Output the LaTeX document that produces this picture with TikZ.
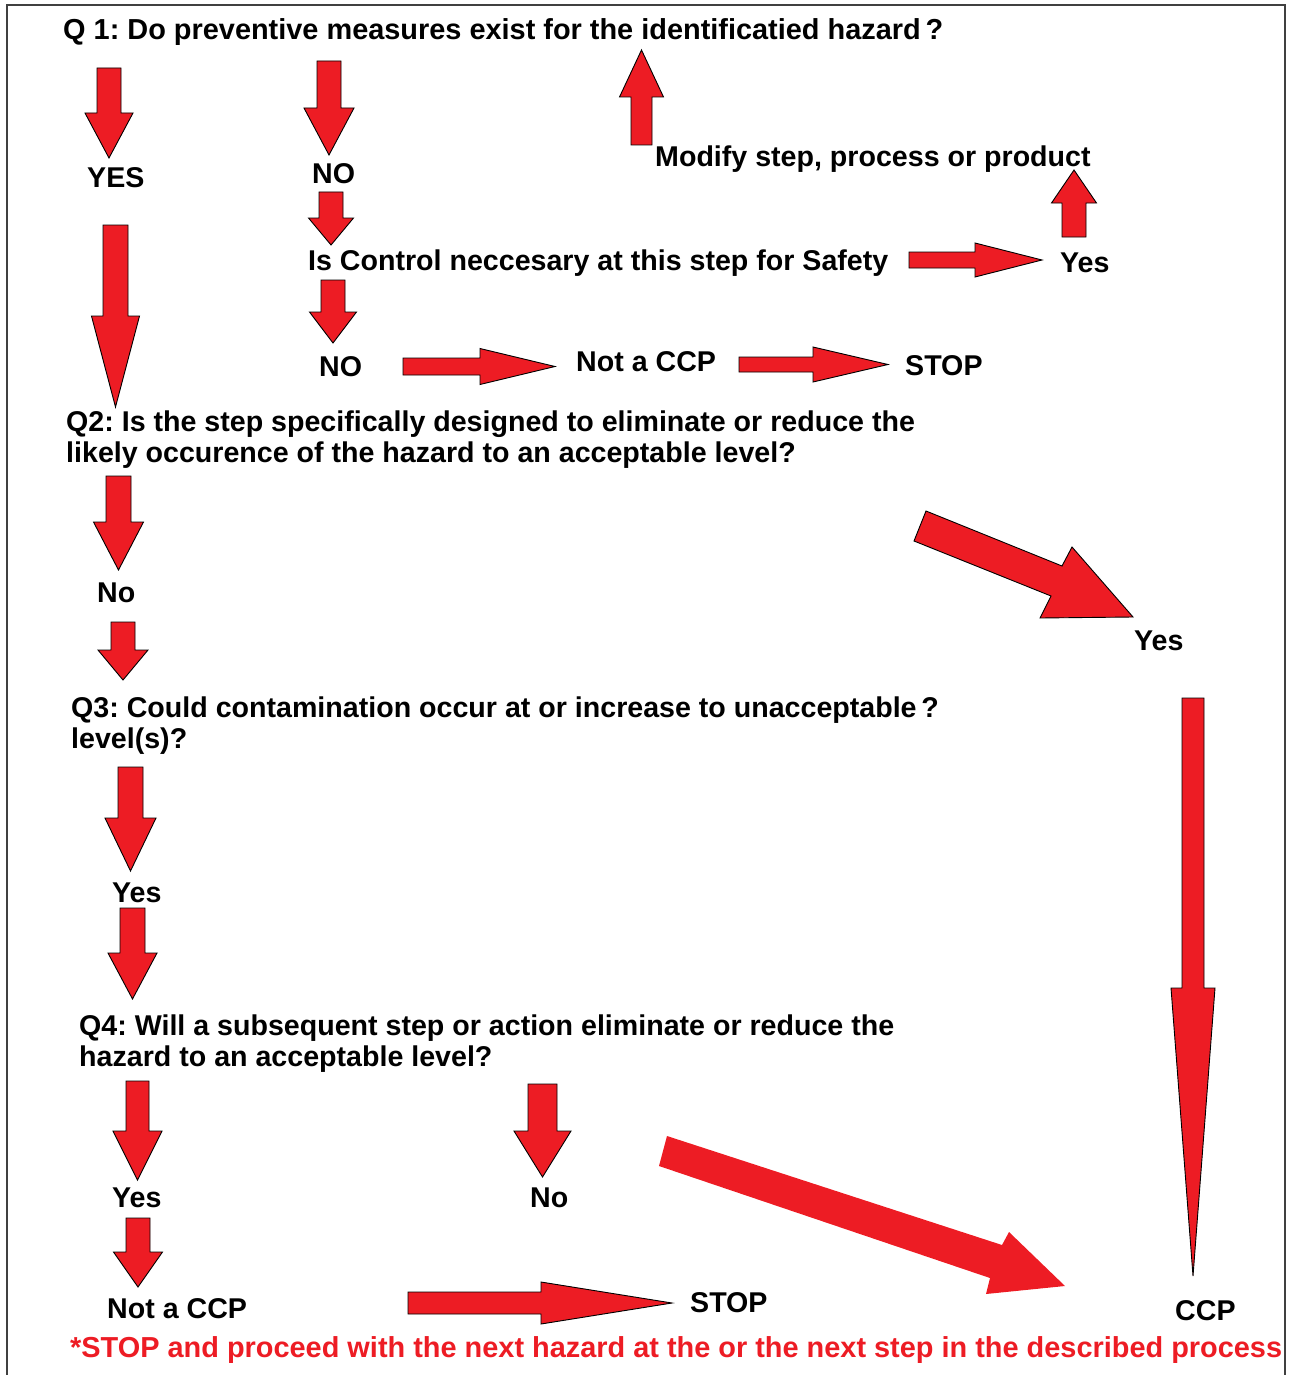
\documentclass[tikz,border=0pt]{standalone}
\usepackage{fontspec}
\setmainfont{Liberation Sans}
\frenchspacing
\definecolor{ared}{HTML}{ED1C24}
\tikzset{
  blk/.style={fill=ared, draw=black, line width=0.9pt, line join=miter},
  blkn/.style={fill=ared, draw=none},
  lbl/.style={anchor=base west, inner sep=0pt, font=\bfseries\fontsize{28.6}{31}\selectfont},
  rlbl/.style={lbl, text=ared}
}
% down arrow: cx, top, shaft half, head start, head half, tip
\newcommand\darr[6]{\draw[blk] ({#1-#3},#2) -- ({#1+#3},#2) -- ({#1+#3},#4) -- ({#1+#5},#4) -- (#1,#6) -- ({#1-#5},#4) -- ({#1-#3},#4) -- cycle;}
% right arrow: left x, cy, shaft half, head start, head half, tip
\newcommand\rarr[6]{\draw[blk] (#1,{#2-#3}) -- (#4,{#2-#3}) -- (#4,{#2-#5}) -- (#6,#2) -- (#4,{#2+#5}) -- (#4,{#2+#3}) -- (#1,{#2+#3}) -- cycle;}
\begin{document}
\begin{tikzpicture}[x=1pt,y=-1pt]
\useasboundingbox (0,0) rectangle (1288,1375);
\draw[black!75, line width=1.2pt] (7,1375) -- (7,5) -- (1285,5) -- (1285,1375);

% texts
\node[lbl, font=\bfseries\fontsize{28.9}{31}\selectfont] (q1) at (63,40) {Q 1: Do preventive measures exist for the identificatied hazard\,?};
\node[lbl] (yes1) at (87,188) {YES};
\node[lbl] (no1) at (312,183) {NO};
\node[lbl] (mod) at (655,167) {Modify step, process or product};
\node[lbl] (ctrl) at (308,270) {Is Control neccesary at this step for Safety};
\node[lbl] (yes2) at (1060,272) {Yes};
\node[lbl] (no2) at (319,376) {NO};
\node[lbl] (ncc1) at (576,371) {Not a CCP};
\node[lbl] (stop1) at (905,375) {STOP};
\node[lbl] (q2a) at (66,431) {Q2: Is the step specifically designed to eliminate or reduce the};
\node[lbl] (q2b) at (66,462) {likely occurence of the hazard to an acceptable level?};
\node[lbl] (no3) at (97,602) {No};
\node[lbl] (yes3) at (1134,650) {Yes};
\node[lbl] (q3a) at (71,717) {Q3: Could contamination occur at or increase to unacceptable\,?};
\node[lbl] (q3b) at (71,748) {level(s)?};
\node[lbl] (yes4) at (112,902) {Yes};
\node[lbl] (q4a) at (79,1035) {Q4: Will a subsequent step or action eliminate or reduce the};
\node[lbl] (q4b) at (79,1066) {hazard to an acceptable level?};
\node[lbl] (yes5) at (112,1207) {Yes};
\node[lbl] (no4) at (530,1207) {No};
\node[lbl] (ncc2) at (107,1318) {Not a CCP};
\node[lbl] (stop2) at (690,1312) {STOP};
\node[lbl] (ccp) at (1175,1320) {CCP};
\node[rlbl, font=\bfseries\fontsize{28.9}{31}\selectfont] (note) at (70,1357) {*STOP and proceed with the next hazard at the or the next step in the described process};

% down arrows
\darr{109}{68}{12}{113}{24}{158}
\darr{329}{61}{12}{108}{25}{155}
\darr{331}{192}{12}{218}{22.5}{245}
\darr{333}{280}{12}{312}{23.5}{343}
\darr{115.5}{225}{12.5}{316}{24}{407}
\darr{118.5}{476}{12.5}{522}{25}{570}
\darr{123}{622}{12}{650}{25}{680}
\darr{130.5}{767}{12.5}{818}{25.5}{871}
\darr{132.5}{908}{12.5}{953}{24.5}{999}
\darr{137.5}{1081}{11.5}{1131}{24.5}{1180}
\darr{138}{1218}{12}{1252}{24.5}{1287}
\darr{542.5}{1084}{14.5}{1131}{28.5}{1177}
\darr{1193}{698}{11}{988}{22}{1276}

% right arrows
\rarr{403}{366.5}{8.5}{480}{18}{555}
\rarr{739}{364.5}{7.5}{813}{17.5}{888}
\rarr{909}{260}{8}{975}{17}{1042}
\rarr{408}{1303}{11}{541}{21}{672}

% up arrows
\draw[blk] (1062,237) -- (1086,237) -- (1086,203) -- (1096.5,203) -- (1074,170) -- (1051.5,203) -- (1062,203) -- cycle;
\draw[blk] (631,145) -- (652,145) -- (652,97) -- (663.5,97) -- (641.5,50) -- (619.5,97) -- (631,97) -- cycle;

% diagonal arrows
\draw[blk] (926,511) -- (1062,566) -- (1072,547) -- (1133,617) -- (1040,618) -- (1051,596) -- (914,541) -- cycle;
\draw[blkn] (667,1136) -- (1002,1245) -- (1009,1232) -- (1065,1286) -- (986,1294) -- (990,1278) -- (659,1166) -- cycle;
\end{tikzpicture}
\end{document}
